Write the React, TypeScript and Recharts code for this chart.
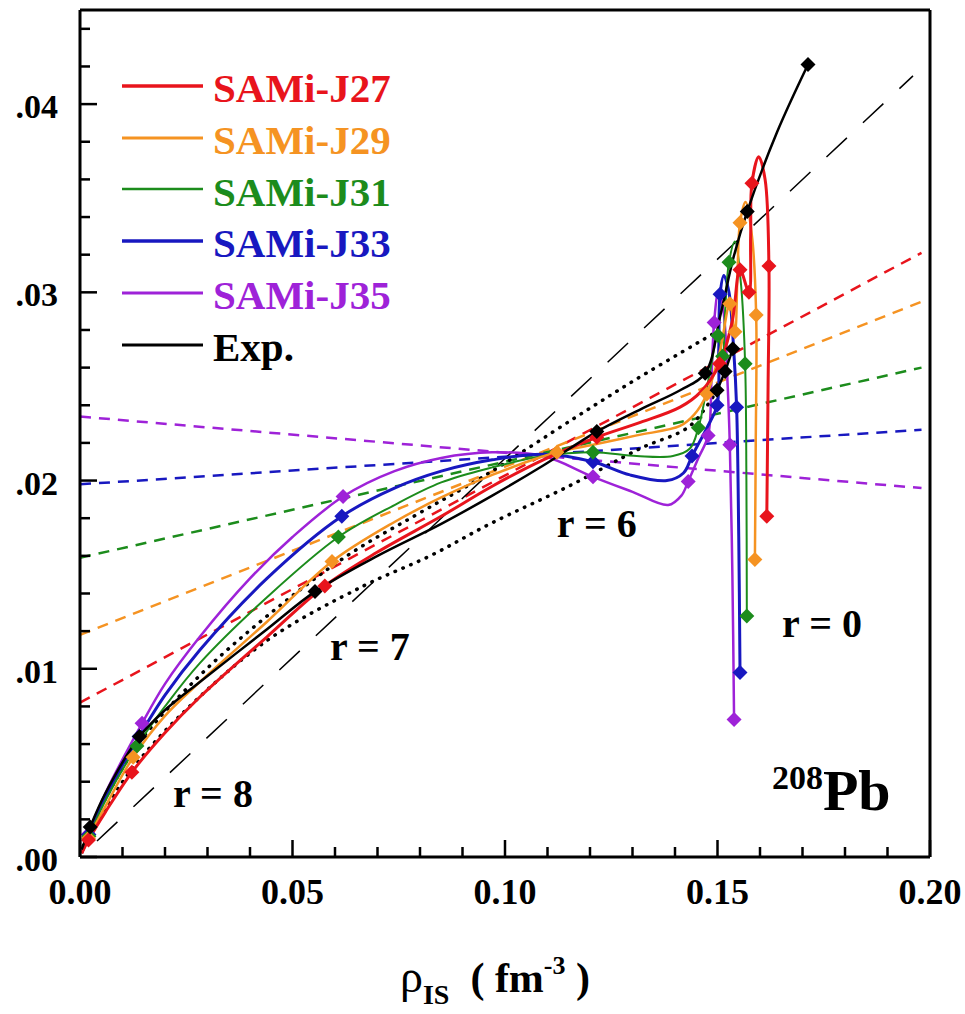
import React from "react";
import { ComposedChart, Line, XAxis, YAxis, ReferenceDot } from "recharts";

// ---- data: [rho_IS, rho_IV, marker?] ----
type P = [number, number, number?];

const J27: P[] = [
  [0.0004, 0.0002], [0.002, 0.0009, 1], [0.006, 0.0024], [0.0122, 0.0045, 1],
  [0.02, 0.0066], [0.0282, 0.0085], [0.044, 0.0117], [0.0576, 0.0144, 1],
  [0.07, 0.0162], [0.085, 0.0181], [0.097, 0.0197], [0.109, 0.0211],
  [0.1216, 0.0223, 1], [0.132, 0.0231], [0.1412, 0.0239], [0.146, 0.0247],
  [0.1505, 0.0262, 1], [0.1535, 0.0285], [0.1553, 0.0312, 1], [0.1574, 0.03, 1],
  [0.1578, 0.033], [0.1581, 0.0358, 1], [0.1597, 0.0372], [0.1612, 0.036],
  [0.1621, 0.0314, 1], [0.1619, 0.025], [0.1616, 0.0181, 1],
];
const J29: P[] = [
  [0.0004, 0.0002], [0.002, 0.001, 1], [0.006, 0.0027], [0.0125, 0.0053, 1],
  [0.02, 0.0075], [0.0282, 0.0093], [0.044, 0.0125], [0.0593, 0.0157, 1],
  [0.074, 0.0178], [0.085, 0.0191], [0.097, 0.0203], [0.1122, 0.0215, 1],
  [0.1207, 0.0219], [0.131, 0.0224], [0.1412, 0.0229], [0.1445, 0.0235],
  [0.1475, 0.0246, 1], [0.1505, 0.0268], [0.1529, 0.0294, 1], [0.1541, 0.0279, 1],
  [0.1547, 0.031], [0.1553, 0.0337, 1], [0.1566, 0.0348], [0.1581, 0.033],
  [0.1591, 0.0288, 1], [0.159, 0.022], [0.1588, 0.0158, 1],
];
const J31: P[] = [
  [0.0004, 0.0002], [0.0021, 0.0011, 1], [0.006, 0.003], [0.0134, 0.0059, 1],
  [0.02, 0.008], [0.0282, 0.0103], [0.044, 0.0138], [0.0608, 0.017, 1],
  [0.074, 0.0187], [0.085, 0.0199], [0.097, 0.0207], [0.109, 0.0213],
  [0.1207, 0.0215, 1], [0.131, 0.0213], [0.1395, 0.0213], [0.1435, 0.0217],
  [0.1455, 0.0228, 1], [0.148, 0.0255], [0.1501, 0.0277, 1], [0.1512, 0.0266, 1],
  [0.1518, 0.029], [0.1527, 0.0316, 1], [0.1541, 0.0327], [0.1555, 0.0305],
  [0.1565, 0.0262, 1], [0.1568, 0.02], [0.1569, 0.0128, 1],
];
const J33: P[] = [
  [0.0004, 0.0002], [0.0021, 0.0012, 1], [0.006, 0.0032], [0.0139, 0.0064, 1],
  [0.02, 0.0086], [0.0282, 0.011], [0.044, 0.0148], [0.0616, 0.0181, 1],
  [0.074, 0.0196], [0.085, 0.0205], [0.097, 0.0211], [0.109, 0.0214],
  [0.1207, 0.021, 1], [0.1294, 0.0203], [0.1381, 0.02], [0.142, 0.0204],
  [0.144, 0.0213, 1], [0.1475, 0.0228], [0.1499, 0.024, 1], [0.1503, 0.027],
  [0.1506, 0.0299, 1], [0.1515, 0.0309], [0.1527, 0.03], [0.1538, 0.027],
  [0.1545, 0.0239, 1], [0.155, 0.017], [0.1553, 0.0098, 1],
];
const J35: P[] = [
  [0.0004, 0.0002], [0.0019, 0.0012, 1], [0.006, 0.0034], [0.0146, 0.0071, 1],
  [0.02, 0.0092], [0.0282, 0.0117], [0.04, 0.0148], [0.05, 0.017],
  [0.0619, 0.01915, 1], [0.074, 0.0205], [0.085, 0.0212], [0.097, 0.0215],
  [0.109, 0.0213], [0.1207, 0.0202, 1], [0.13, 0.0194], [0.1384, 0.0187],
  [0.1415, 0.0192], [0.1431, 0.01995, 1], [0.1455, 0.0212], [0.1478, 0.0224, 1],
  [0.1486, 0.0255], [0.1492, 0.0284, 1], [0.1502, 0.03], [0.1514, 0.029],
  [0.1524, 0.025], [0.1529, 0.0219, 1], [0.1535, 0.015], [0.1539, 0.0073, 1],
];
const EXP: P[] = [
  [0.0004, 0.0004], [0.0024, 0.0016, 1], [0.006, 0.0034], [0.014, 0.0064, 1],
  [0.02, 0.0078], [0.0282, 0.0093], [0.044, 0.0121], [0.0553, 0.0141, 1],
  [0.07, 0.016], [0.085, 0.0177], [0.097, 0.0192], [0.109, 0.0208],
  [0.1216, 0.0226, 1], [0.132, 0.0238], [0.1412, 0.0248], [0.1471, 0.0257, 1],
  [0.1506, 0.0287], [0.1537, 0.0318], [0.157, 0.0343, 1], [0.164, 0.0385],
  [0.1713, 0.0421, 1],
];
const EXP_B: P[] = [[0.1499, 0.0248, 1], [0.1518, 0.0258, 1], [0.1536, 0.027, 1]];

// straight dashed fits, values at DASH_X
const DASH_X = [0, 0.198];
const DASH_J27 = [0.0082, 0.0321];
const DASH_J29 = [0.0118, 0.0295];
const DASH_J31 = [0.0159, 0.026];
const DASH_J33 = [0.0198, 0.0227];
const DASH_J35 = [0.0234, 0.0196];

// black reference curves
const LONG_DASH: P[] = [[0.004, 0.00085], [0.196, 0.0415]];
const DOT_UPPER: P[] = [
  [0.0008, 0.0006], [0.006, 0.0031], [0.014, 0.0061], [0.028, 0.0096],
  [0.044, 0.0128], [0.0628, 0.016], [0.0793, 0.0182], [0.0948, 0.0202],
  [0.1169, 0.0234], [0.131, 0.0254], [0.149, 0.0278],
];
const DOT_LOWER: P[] = [
  [0.0008, 0.0005], [0.006, 0.0026], [0.012, 0.0046], [0.0235, 0.0075],
  [0.044, 0.0115], [0.0667, 0.0144], [0.0824, 0.016], [0.0965, 0.0177],
  [0.115, 0.0197], [0.1318, 0.0217], [0.1435, 0.0229], [0.1499, 0.0248],
];

const X_DOMAIN = [0, 0.2];
const Y_DOMAIN = [0, 0.045];
const X_TICKS = [0, 0.01, 0.02, 0.03, 0.04, 0.05, 0.06, 0.07, 0.08, 0.09, 0.1,
  0.11, 0.12, 0.13, 0.14, 0.15, 0.16, 0.17, 0.18, 0.19, 0.2];
const Y_TICKS = [0, 0.002, 0.004, 0.006, 0.008, 0.01, 0.012, 0.014, 0.016, 0.018,
  0.02, 0.022, 0.024, 0.026, 0.028, 0.03, 0.032, 0.034, 0.036, 0.038, 0.04, 0.042, 0.044];

const FONT = '"Liberation Serif", "Times New Roman", Times, serif';

const SERIES = [
  { name: "SAMi-J27", color: "#E8141C", width: 3, pts: J27, dash: DASH_J27 },
  { name: "SAMi-J29", color: "#F59322", width: 2.5, pts: J29, dash: DASH_J29 },
  { name: "SAMi-J31", color: "#1C8C1C", width: 2, pts: J31, dash: DASH_J31 },
  { name: "SAMi-J33", color: "#1818C0", width: 3, pts: J33, dash: DASH_J33 },
  { name: "SAMi-J35", color: "#9E22D8", width: 2.5, pts: J35, dash: DASH_J35 },
];

const toData = (pts: P[]) => pts.map(([x, y, m]) => ({ x, y, m: m === 1 }));
const dashData = (ys: number[]) => DASH_X.map((x, i) => ({ x, y: ys[i] }));

const isMajorX = (v: number) => Math.round(v * 100) % 5 === 0;
const isMajorY = (v: number) => Math.round(v * 1000) % 10 === 0;

// centripetal catmull-rom, works for curves that turn back in x
function catmullRom(ctx: any) {
  let pts: number[][] = [];
  return {
    areaStart() {},
    areaEnd() {},
    lineStart() { pts = []; },
    point(x: number, y: number) { pts.push([+x, +y]); },
    lineEnd() {
      const n = pts.length;
      if (!n) return;
      ctx.moveTo(pts[0][0], pts[0][1]);
      for (let i = 0; i < n - 1; i++) {
        const p0 = pts[i - 1], p1 = pts[i], p2 = pts[i + 1], p3 = pts[i + 2];
        const l12 = Math.sqrt(Math.hypot(p2[0] - p1[0], p2[1] - p1[1]));
        let c1 = [p1[0], p1[1]];
        let c2 = [p2[0], p2[1]];
        if (p0) {
          const l01 = Math.sqrt(Math.hypot(p1[0] - p0[0], p1[1] - p0[1]));
          if (l01 > 1e-6) {
            const a = 2 * l01 * l01 + 3 * l01 * l12 + l12 * l12;
            const m = 3 * l01 * (l01 + l12);
            c1 = [0, 1].map((k) => (p1[k] * a - p0[k] * l12 * l12 + p2[k] * l01 * l01) / m);
          }
        }
        if (p3) {
          const l23 = Math.sqrt(Math.hypot(p3[0] - p2[0], p3[1] - p2[1]));
          if (l23 > 1e-6) {
            const b = 2 * l23 * l23 + 3 * l23 * l12 + l12 * l12;
            const m = 3 * l23 * (l23 + l12);
            c2 = [0, 1].map((k) => (p2[k] * b + p1[k] * l23 * l23 - p3[k] * l12 * l12) / m);
          }
        }
        ctx.bezierCurveTo(c1[0], c1[1], c2[0], c2[1], p2[0], p2[1]);
      }
    },
  };
}

const diamond = (color: string) => (p: any) => {
  const k = `d-${p.index}`;
  if (!p.payload || !p.payload.m) return <g key={k} />;
  const s = 7.5;
  return (
    <path
      key={k}
      d={`M${p.cx},${p.cy - s}L${p.cx + s},${p.cy}L${p.cx},${p.cy + s}L${p.cx - s},${p.cy}Z`}
      fill={color}
    />
  );
};

// inward ticks; labels only on bottom / left
const BottomTick = (p: any) => {
  const v = p.payload.value;
  const major = isMajorX(v);
  return (
    <g>
      <line x1={p.x} x2={p.x} y1={p.y} y2={p.y - (major ? 17 : 10)} stroke="#000" strokeWidth={2.5} />
      {major && (
        <text x={p.x} y={p.y + 47} textAnchor="middle" fontSize={36} fontWeight="bold" fontFamily={FONT} fill="#000">
          {v.toFixed(2)}
        </text>
      )}
    </g>
  );
};
const TopTick = (p: any) => {
  const major = isMajorX(p.payload.value);
  return (
    <g>
      <line x1={p.x} x2={p.x} y1={p.y} y2={p.y + (major ? 17 : 10)} stroke="#000" strokeWidth={2.5} />
    </g>
  );
};
const LeftTick = (p: any) => {
  const v = p.payload.value;
  const major = isMajorY(v);
  return (
    <g>
      <line x1={p.x} x2={p.x + (major ? 17 : 10)} y1={p.y} y2={p.y} stroke="#000" strokeWidth={2.5} />
      {major && (
        <text x={p.x - 22} y={p.y + 14} textAnchor="end" fontSize={34} fontWeight="bold" fontFamily={FONT} fill="#000">
          {"." + v.toFixed(2).slice(2)}
        </text>
      )}
    </g>
  );
};
const RightTick = (p: any) => {
  const major = isMajorY(p.payload.value);
  return (
    <g>
      <line x1={p.x} x2={p.x - (major ? 17 : 10)} y1={p.y} y2={p.y} stroke="#000" strokeWidth={2.5} />
    </g>
  );
};

const AxisTitle = (p: any) => {
  const vb = p.viewBox;
  return (
    <text x={vb.x + vb.width / 2 - 10} y={vb.y + 135} textAnchor="middle" fontFamily={FONT} fontSize={42} fill="#000" style={{ whiteSpace: "pre" }}>
      <tspan fontSize={46}>ρ</tspan>
      <tspan fontSize={28} fontWeight="bold" dy={12}>IS</tspan>
      <tspan fontWeight="bold" dy={-12}>{"  ( fm"}</tspan>
      <tspan fontSize={26} fontWeight="bold" dy={-18}>-3</tspan>
      <tspan fontWeight="bold" dy={18}>{" )"}</tspan>
    </text>
  );
};

const anno = (text: string) => (p: any) => (
  <text x={p.viewBox.x} y={p.viewBox.y} fontSize={40} fontWeight="bold" fontFamily={FONT} fill="#000" style={{ whiteSpace: "pre" }}>
    {text}
  </text>
);
const nucleus = (p: any) => (
  <text x={p.viewBox.x} y={p.viewBox.y} fontWeight="bold" fontFamily={FONT} fill="#000">
    <tspan fontSize={34} dy={-21}>208</tspan>
    <tspan fontSize={58} dy={21}>Pb</tspan>
  </text>
);

function LegendBox() {
  const rows = [...SERIES.map((s) => ({ name: s.name, color: s.color, width: s.width })), { name: "Exp.", color: "#000", width: 2.5 }];
  return (
    <div style={{ position: "absolute", left: 122, top: 60, fontFamily: FONT }}>
      {rows.map((s) => (
        <div key={s.name} style={{ display: "flex", alignItems: "center", height: 51.8 }}>
          <svg width={81} height={8}>
            <line x1={0} x2={81} y1={4} y2={4} stroke={s.color} strokeWidth={s.width + 0.5} />
          </svg>
          <span style={{ marginLeft: 10, fontSize: 41, fontWeight: "bold", color: s.color, lineHeight: "52px", position: "relative", top: 2 }}>
            {s.name}
          </span>
        </div>
      ))}
    </div>
  );
}

// frame layer: the four axes with inward ticks, drawn on top of the data chart
function Frame() {
  return (
    <ComposedChart width={965} height={1014} margin={{ top: -20, right: 5, bottom: 10, left: 0 }}>
      <XAxis dataKey="x" type="number" domain={X_DOMAIN} ticks={X_TICKS} interval={0} height={147}
        tickSize={0} tickMargin={0} tickLine={false} tick={<BottomTick />} axisLine={{ stroke: "#000", strokeWidth: 3 }} />
      <XAxis xAxisId="top" orientation="top" dataKey="x" type="number" domain={X_DOMAIN} ticks={X_TICKS} interval={0}
        height={30} tickSize={0} tickMargin={0} tickLine={false} tick={<TopTick />} axisLine={{ stroke: "#000", strokeWidth: 3 }} />
      <YAxis type="number" domain={Y_DOMAIN} ticks={Y_TICKS} interval={0} width={80}
        tickSize={0} tickMargin={0} tickLine={false} tick={<LeftTick />} axisLine={{ stroke: "#000", strokeWidth: 3 }} />
      <YAxis yAxisId="right" orientation="right" type="number" domain={Y_DOMAIN} ticks={Y_TICKS} interval={0} width={30}
        tickSize={0} tickMargin={0} tickLine={false} tick={<RightTick />} axisLine={{ stroke: "#000", strokeWidth: 3 }} />
      <Line data={toData(LONG_DASH)} dataKey="y" type="linear" stroke="none" dot={false} isAnimationActive={false} />
    </ComposedChart>
  );
}

function Plot() {
  const models = [...SERIES].reverse();
  return (
    <ComposedChart width={965} height={1014} margin={{ top: 10, right: 35, bottom: 10, left: 0 }}>
      <XAxis dataKey="x" type="number" domain={X_DOMAIN} height={147} tick={false} tickLine={false}
        axisLine={false} label={{ content: AxisTitle }} />
      <YAxis type="number" domain={Y_DOMAIN} width={80} tick={false} tickLine={false} axisLine={false} />

      {SERIES.map((s) => (
        <Line key={`dash-${s.name}`} data={dashData(s.dash)} dataKey="y" type="linear" stroke={s.color}
          strokeWidth={2.5} strokeDasharray="11 8" dot={false} activeDot={false} isAnimationActive={false} legendType="none" />
      ))}
      <Line data={toData(LONG_DASH)} dataKey="y" type="linear" stroke="#000" strokeWidth={1.5}
        strokeDasharray="28 22" dot={false} activeDot={false} isAnimationActive={false} legendType="none" />
      <Line data={toData(DOT_UPPER)} dataKey="y" type={catmullRom as any} stroke="#000" strokeWidth={3.5}
        strokeDasharray="0.5 8" strokeLinecap="round" dot={false} activeDot={false} isAnimationActive={false} legendType="none" />
      <Line data={toData(DOT_LOWER)} dataKey="y" type={catmullRom as any} stroke="#000" strokeWidth={3.5}
        strokeDasharray="0.5 8" strokeLinecap="round" dot={false} activeDot={false} isAnimationActive={false} legendType="none" />

      {models.map((s) => (
        <Line key={s.name} name={s.name} data={toData(s.pts)} dataKey="y" type={catmullRom as any}
          stroke={s.color} strokeWidth={s.width} dot={diamond(s.color)} activeDot={false} isAnimationActive={false} />
      ))}
      <Line data={toData(EXP_B)} dataKey="y" type="linear" stroke="#000" strokeWidth={2.5}
        dot={diamond("#000")} activeDot={false} isAnimationActive={false} legendType="none" />
      <Line name="Exp." data={toData(EXP)} dataKey="y" type={catmullRom as any} stroke="#000" strokeWidth={2.5}
        dot={diamond("#000")} activeDot={false} isAnimationActive={false} />

      <ReferenceDot x={0.0219} y={0.00266} r={0} fill="none" stroke="none" label={{ content: anno("r = 8") }} />
      <ReferenceDot x={0.0588} y={0.01048} r={0} fill="none" stroke="none" label={{ content: anno("r = 7") }} />
      <ReferenceDot x={0.1122} y={0.01702} r={0} fill="none" stroke="none" label={{ content: anno("r = 6") }} />
      <ReferenceDot x={0.1652} y={0.0117} r={0} fill="none" stroke="none" label={{ content: anno("r = 0") }} />
      <ReferenceDot x={0.1628} y={0.0025} r={0} fill="none" stroke="none" label={{ content: nucleus }} />
    </ComposedChart>
  );
}

export default function App() {
  return (
    <div style={{ position: "absolute", left: 0, top: 0, width: 965, height: 1014 }}>
      <div style={{ position: "absolute", left: 0, top: 0 }}>
        <Plot />
      </div>
      <div style={{ position: "absolute", left: 0, top: 0 }}>
        <Frame />
      </div>
      <LegendBox />
    </div>
  );
}
